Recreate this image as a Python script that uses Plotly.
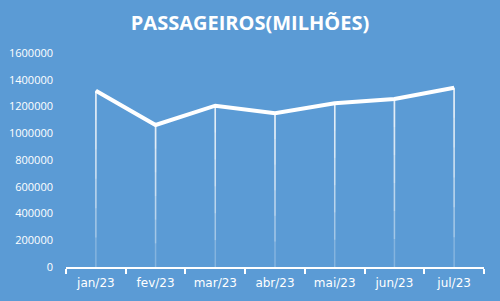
import plotly.graph_objects as go

months = ["jan/23", "fev/23", "mar/23", "abr/23", "mai/23", "jun/23", "jul/23"]
passageiros = [1318000, 1062000, 1206000, 1149000, 1224000, 1256000, 1340000]
y_ticks = [0, 200000, 400000, 600000, 800000, 1000000, 1200000, 1400000, 1600000]

fig = go.Figure()

# drop lines with fading effect (stacked partial error bars)
N = 6
for k in range(1, N + 1):
    frac = k / N
    fig.add_trace(go.Scatter(
        x=months, y=passageiros, mode="markers",
        marker=dict(size=0.1, color="rgba(0,0,0,0)"),
        error_y=dict(type="data", symmetric=False,
                     array=[0] * len(passageiros),
                     arrayminus=[v * frac for v in passageiros],
                     color="rgba(255,255,255,0.25)", thickness=1.5, width=0),
        hoverinfo="skip", showlegend=False,
    ))

fig.add_trace(go.Scatter(
    x=months, y=passageiros, mode="lines",
    line=dict(color="white", width=4),
    showlegend=False,
))

fig.update_layout(
    width=500, height=301,
    paper_bgcolor="#5b9bd5", plot_bgcolor="#5b9bd5",
    margin=dict(l=66, r=16, t=53, b=34),
    title=dict(text="<b>PASSAGEIROS(MILHÕES)</b>", x=0.5, xanchor="center",
               y=0.925, yanchor="middle",
               font=dict(family="Open Sans", size=20, color="white")),
    xaxis=dict(type="category", showgrid=False, showline=True, linecolor="white",
               linewidth=1.5, ticks="outside", tickson="boundaries", ticklen=5,
               tickcolor="white", tickwidth=1.5, ticklabelstandoff=4,
               automargin=False,
               tickfont=dict(family="DejaVu Sans", size=12, color="white"),
               range=[-0.5, 6.5], zeroline=False),
    yaxis=dict(range=[0, 1600000], tickvals=y_ticks,
               ticktext=[str(v) for v in y_ticks],
               showgrid=False, zeroline=False, showline=False,
               ticks="", ticklabelstandoff=12, automargin=False,
               tickfont=dict(family="Open Sans", size=11, color="white")),
)

fig.write_html("out.html")
